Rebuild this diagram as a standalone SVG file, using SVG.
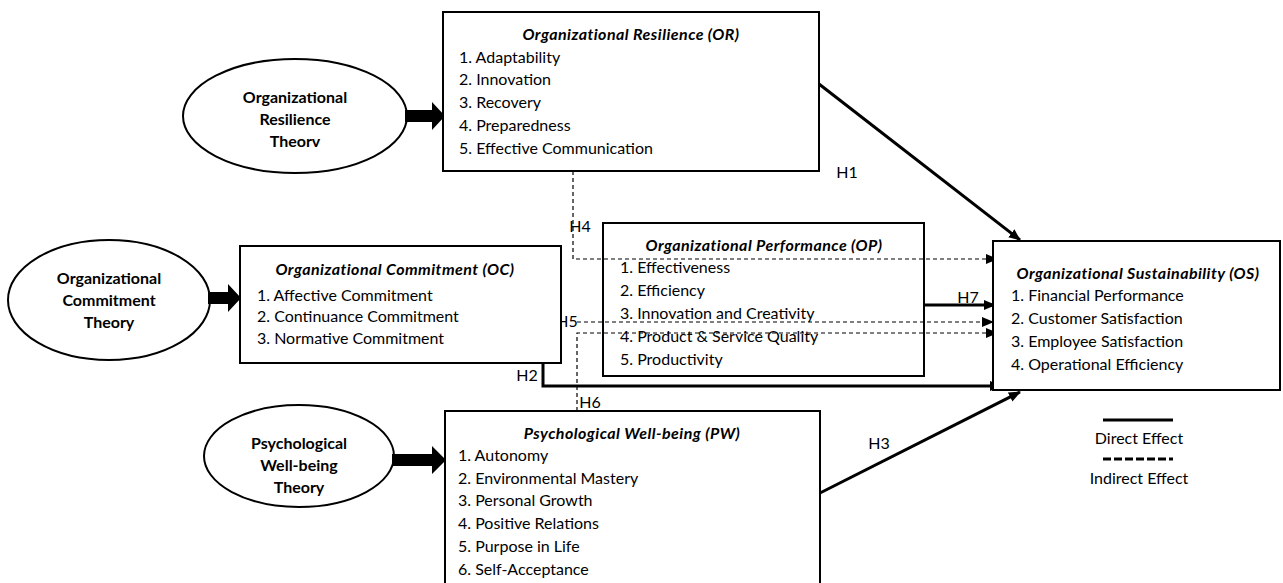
<svg xmlns="http://www.w3.org/2000/svg" width="1283" height="583" viewBox="0 0 1283 583">
<style>
.box{fill:#fff;stroke:#000;stroke-width:2}
.ell{fill:#fff;stroke:#000;stroke-width:2}
text{font-family:Lato,"Liberation Sans",sans-serif;font-size:16px;fill:#000}
.ti{font-weight:bold;font-style:italic;text-anchor:middle;letter-spacing:0.45px}
.th{font-weight:bold;text-anchor:middle}
.mid{text-anchor:middle}
.solid{fill:none;stroke:#000;stroke-width:3}
.dash{fill:none;stroke:#000;stroke-width:1.2;stroke-dasharray:4 3}
.blk{fill:#000}
</style>
<defs>
<marker id="ah" markerUnits="userSpaceOnUse" markerWidth="12" markerHeight="12" viewBox="0 0 12 12" refX="11" refY="6" orient="auto">
<path d="M0,1 L12,6 L0,11 Z" fill="#000"/>
</marker>
</defs>

<g id="connectors">
<line class="solid" x1="819" y1="84" x2="1020" y2="240" marker-end="url(#ah)"/>
<path class="solid" d="M543,362 V386 H1001" marker-end="url(#ah)"/>
<line class="solid" x1="820" y1="493" x2="1020" y2="392" marker-end="url(#ah)"/>
<line class="solid" x1="924" y1="305" x2="995" y2="305" marker-end="url(#ah)"/>
<path class="dash" d="M573,171 V259 H997" marker-end="url(#ah)"/>
<path class="dash" d="M577,322 H993" marker-end="url(#ah)"/>
<path class="dash" d="M577,411 V333 H997" marker-end="url(#ah)"/>
<text x="847" y="178" class="mid">H1</text>
<text x="527" y="381" class="mid">H2</text>
<text x="879" y="449" class="mid">H3</text>
<text x="580" y="232" class="mid">H4</text>
<text x="567" y="327" class="mid">H5</text>
<text x="590" y="408" class="mid">H6</text>
<text x="968" y="303" class="mid">H7</text>
</g>

<g id="or-theory">
<ellipse class="ell" cx="295" cy="116" rx="112" ry="57"/>
<text x="295" y="103" class="th">Organizational</text>
<text x="295" y="125" class="th">Resilience</text>
<text x="295" y="147" class="th">Theorv</text>
<polygon class="blk" points="405,110 432,110 432,102 445,116 432,130 432,122 405,122"/>
</g>

<g id="oc-theory">
<ellipse class="ell" cx="109" cy="300" rx="101" ry="60"/>
<text x="109" y="284" class="th">Organizational</text>
<text x="109" y="306" class="th">Commitment</text>
<text x="109" y="328" class="th">Theory</text>
<polygon class="blk" points="208,292 228,292 228,284 241,298 228,312 228,304 208,304"/>
</g>

<g id="pw-theory">
<ellipse class="ell" cx="299" cy="456" rx="95" ry="51"/>
<text x="299" y="449" class="th">Psychological</text>
<text x="299" y="471" class="th">Well-being</text>
<text x="299" y="493" class="th">Theory</text>
<polygon class="blk" points="392,454 432,454 432,446 446,460 432,474 432,466 392,466"/>
</g>

<g id="or">
<rect class="box" x="443" y="12" width="376" height="159"/>
<text x="631" y="40" class="ti">Organizational Resilience (OR)</text>
<text x="459" y="63">1. Adaptability</text>
<text x="459" y="85">2. Innovation</text>
<text x="459" y="108">3. Recovery</text>
<text x="459" y="131">4. Preparedness</text>
<text x="459" y="154">5. Effective Communication</text>
</g>

<g id="oc">
<rect class="box" x="240" y="246" width="321" height="117"/>
<text x="395" y="275" class="ti">Organizational Commitment (OC)</text>
<text x="257" y="301">1. Affective Commitment</text>
<text x="257" y="322">2. Continuance Commitment</text>
<text x="257" y="344">3. Normative Commitment</text>
</g>

<g id="op">
<rect class="box" x="603" y="223" width="321" height="153" fill-opacity="0"/>
<text x="764" y="251" class="ti">Organizational Performance (OP)</text>
<text x="620" y="273">1. Effectiveness</text>
<text x="620" y="296">2. Efficiency</text>
<text x="620" y="319">3. Innovation and Creativity</text>
<text x="620" y="342">4. Product &amp; Service Quality</text>
<text x="620" y="365">5. Productivity</text>
</g>

<g id="pw">
<rect class="box" x="445" y="411" width="375" height="180"/>
<text x="632" y="439" class="ti">Psychological Well-being (PW)</text>
<text x="458" y="461">1. Autonomy</text>
<text x="458" y="484">2. Environmental Mastery</text>
<text x="458" y="506">3. Personal Growth</text>
<text x="458" y="529">4. Positive Relations</text>
<text x="458" y="552">5. Purpose in Life</text>
<text x="458" y="575">6. Self-Acceptance</text>
</g>

<g id="os">
<rect class="box" x="993" y="241" width="287" height="149"/>
<text x="1138" y="279" class="ti">Organizational Sustainability (OS)</text>
<text x="1011" y="301">1. Financial Performance</text>
<text x="1011" y="324">2. Customer Satisfaction</text>
<text x="1011" y="347">3. Employee Satisfaction</text>
<text x="1011" y="370">4. Operational Efficiency</text>
</g>

<g id="legend">
<line x1="1103" y1="420" x2="1173" y2="420" stroke="#000" stroke-width="3"/>
<text x="1139" y="444" class="mid">Direct Effect</text>
<line x1="1103" y1="459" x2="1173" y2="459" stroke="#000" stroke-width="3" stroke-dasharray="8 3"/>
<text x="1139" y="484" class="mid">Indirect Effect</text>
</g>
</svg>
